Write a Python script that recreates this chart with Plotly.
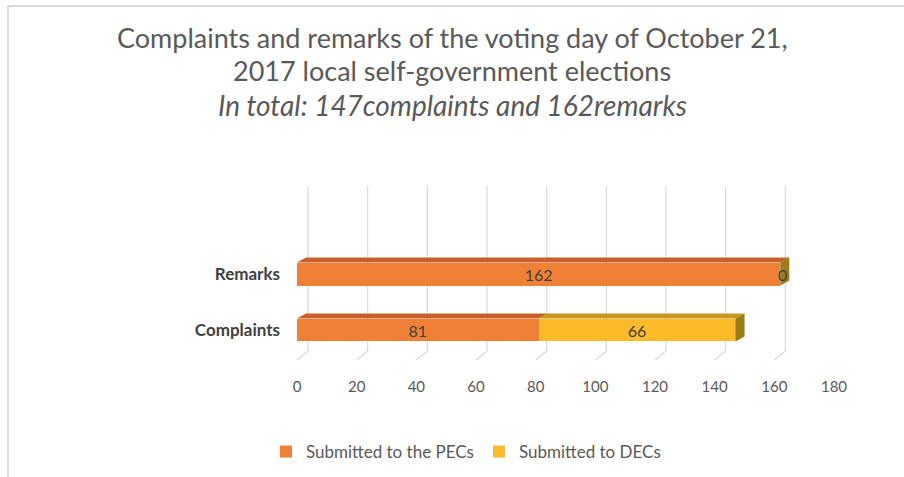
import plotly.graph_objects as go

# data
categories = ["Complaints", "Remarks"]
pecs_values = [81, 162]
decs_values = [66, 0]
x_ticks = [0, 20, 40, 60, 80, 100, 120, 140, 160, 180]
series_names = ["Submitted to the PECs", "Submitted to DECs"]

W, H = 904, 477
ML, MR, MT, MB = 297, 70, 180, 117
PW, PH = W - ML - MR, H - MT - MB
X_MAX = 180
Y_RANGE = [-0.536, 2.68]
K = PW / X_MAX          # pixels per unit on x
DX, DY = 9, 5           # 3d depth offset in pixels
BAR_W = 0.41

ORANGE, ORANGE_TOP = "#F08035", "#C9602A"
YELLOW, YELLOW_TOP, YELLOW_SIDE = "#FDBB2A", "#C9961E", "#9C7C16"
GRID = "#D9D9D9"
TEXT = "#404040"
FONT = "Lato"

ypos = list(range(len(categories)))


def py(pixel_y):
    """pixel row -> paper y"""
    return (H - MB - pixel_y) / PH


def px(pixel_x):
    return (pixel_x - ML) / PW


fig = go.Figure()
fig.add_trace(go.Bar(
    y=ypos, x=pecs_values, orientation="h", name=series_names[0],
    marker=dict(color=ORANGE, line=dict(width=0)), width=BAR_W,
    text=pecs_values, textposition="inside", insidetextanchor="middle", textangle=0,
    constraintext="none",
    textfont=dict(family=FONT, size=16, color=TEXT),
))
fig.add_trace(go.Bar(
    y=ypos, x=decs_values, orientation="h", name=series_names[1],
    marker=dict(color=YELLOW, line=dict(width=0)), width=BAR_W,
    text=[v if v > 0 else "" for v in decs_values],
    textposition="inside", insidetextanchor="middle", textangle=0,
    constraintext="none",
    textfont=dict(family=FONT, size=16, color=TEXT),
))

shapes = []
# border of the chart area
shapes.append(dict(type="rect", xref="paper", yref="paper",
                   x0=px(8), x1=px(W + 10), y0=py(6), y1=py(H + 10),
                   line=dict(color="#D0D0D0", width=1.5), layer="below"))

# back-wall gridlines and floor diagonals
for t in x_ticks:
    shapes.append(dict(type="line", xref="x", yref="paper", xsizemode="pixel",
                       xanchor=t, x0=DX + 2, x1=DX + 2, y0=py(H - MB - 9), y1=py(186),
                       line=dict(color=GRID, width=1.2), layer="below"))
    shapes.append(dict(type="line", xref="x", yref="paper", xsizemode="pixel",
                       xanchor=t, x0=0, x1=DX + 2, y0=0, y1=py(H - MB - 9),
                       line=dict(color=GRID, width=1.2), layer="below"))

annotations = []
# top faces and end faces of the 3d bars
hpx = BAR_W * PH / (Y_RANGE[1] - Y_RANGE[0])
for i, y in enumerate(ypos):
    segs = [(0, pecs_values[i], ORANGE_TOP), (pecs_values[i], pecs_values[i] + decs_values[i], YELLOW_TOP)]
    top = y + BAR_W / 2
    for a, b, col in segs:
        if b <= a:
            continue
        L = (b - a) * K
        shapes.append(dict(type="path", xref="x", yref="y", xsizemode="pixel", ysizemode="pixel",
                           xanchor=a, yanchor=top,
                           path=f"M0,0 L{L:.1f},0 L{L + DX:.1f},{DY} L{DX},{DY} Z",
                           fillcolor=col, line=dict(width=0)))
    end = pecs_values[i] + decs_values[i]
    shapes.append(dict(type="path", xref="x", yref="y", xsizemode="pixel", ysizemode="pixel",
                       xanchor=end, yanchor=y - BAR_W / 2,
                       path=f"M0,0 L0,{hpx:.1f} L{DX},{hpx + DY:.1f} L{DX},{DY} Z",
                       fillcolor=YELLOW_SIDE, line=dict(width=0)))
    # zero-size segment label sits on the end face
    if decs_values[i] == 0:
        annotations.append(dict(text=str(decs_values[i]), x=end, y=y, xref="x", yref="y",
                                xanchor="center", xshift=DX / 2 - 2, yanchor="middle",
                                showarrow=False, font=dict(family=FONT, size=16, color=TEXT)))

title_lines = [
    ("Complaints and remarks of the voting day of October 21,", 37, 27),
    ("2017 local self-government elections", 71, 27),
    ("<i>In total: 147complaints and 162remarks</i>", 105, 28),
]
for t, yy, fs in title_lines:
    annotations.append(dict(text=t, xref="paper", yref="paper", x=px(W / 2), y=py(yy),
                            xanchor="center", yanchor="middle", showarrow=False,
                            font=dict(family=FONT, size=fs, color="#595959")))

fig.update_layout(
    width=W, height=H,
    margin=dict(l=ML, r=MR, t=MT, b=MB, autoexpand=False),
    barmode="stack",
    paper_bgcolor="white", plot_bgcolor="white",
    shapes=shapes, annotations=annotations,
    xaxis=dict(range=[0, X_MAX], tickvals=x_ticks, showgrid=False, zeroline=False,
               showline=False, ticklabelstandoff=16, automargin=False,
               tickfont=dict(family=FONT, size=15, color="#595959")),
    yaxis=dict(range=Y_RANGE, tickvals=ypos,
               ticktext=[f"<b>{c}</b>" for c in categories], automargin=False,
               showgrid=False, zeroline=False, showline=False, ticklabelstandoff=16,
               tickfont=dict(family=FONT, size=17, color=TEXT)),
    legend=dict(orientation="h", x=px(466), xanchor="center", y=py(452), yanchor="middle",
                font=dict(family=FONT, size=17, color="#595959"), traceorder="normal",
                itemwidth=30),
    showlegend=True,
)

# drop the default page margin so the figure sits at the window origin
fig.write_html("out.html", config={"displayModeBar": False},
               post_script="document.body.style.margin='0';")
